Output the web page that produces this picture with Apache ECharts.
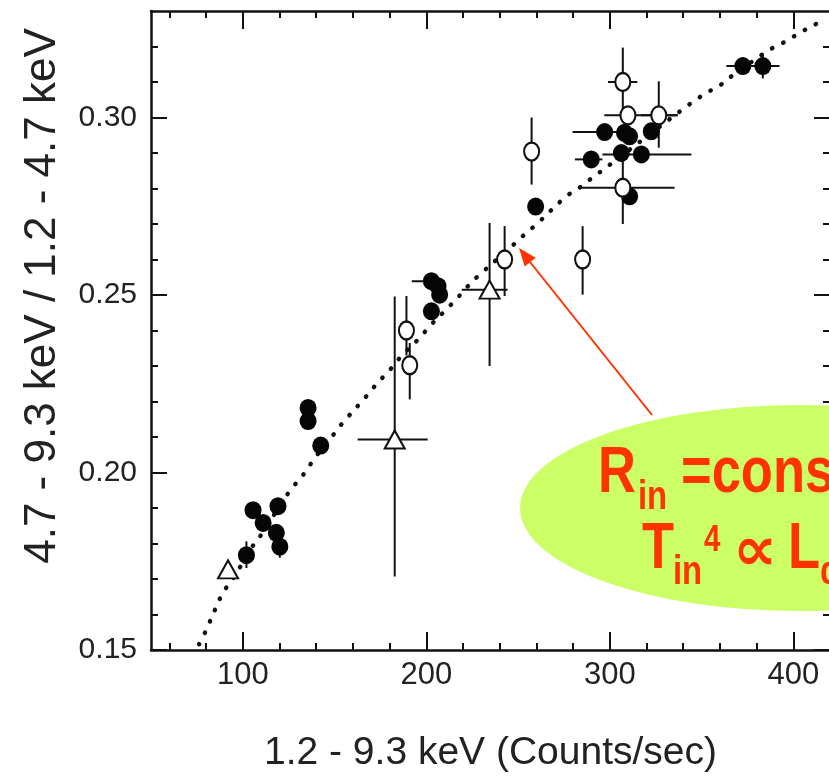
<!DOCTYPE html>
<html><head><meta charset="utf-8">
<script src="https://cdn.jsdelivr.net/npm/echarts@6/dist/echarts.min.js"></script>
<style>html,body{margin:0;padding:0;background:#fff;overflow:hidden}#c{width:829px;height:778px}</style>
</head><body><div id="c"></div>
<script>
// ---- axis ranges / ticks ----
const xMin = 50, xMax = 420, yMin = 0.15, yMax = 0.33;
const xMajorTicks = [100, 200, 300, 400];
const xMinorTicks = [60, 80, 120, 140, 160, 180, 220, 240, 260, 280, 320, 340, 360, 380];
const yMajorTicks = [0.15, 0.20, 0.25, 0.30];
const yMinorTicks = [0.16, 0.17, 0.18, 0.19, 0.21, 0.22, 0.23, 0.24, 0.26, 0.27, 0.28, 0.29, 0.31, 0.32];
const xTitle = '1.2 - 9.3 keV (Counts/sec)';
const yTitle = '4.7 - 9.3 keV / 1.2 - 4.7 keV';

// ---- filled circles ----
const filledX   = [135.6, 135.6, 142.5, 105.6, 119.2, 111.1, 118.3, 120.2, 102.0, 202.8, 206.4, 207.3, 202.8, 259.6, 297.2, 308.0, 310.8, 322.6, 306.3, 317.2, 289.9, 310.8, 372.5, 383.4];
const filledY   = [0.2182, 0.2145, 0.2076, 0.1894, 0.1905, 0.1858, 0.1830, 0.1791, 0.1767, 0.2539, 0.2525, 0.2501, 0.2454, 0.2749, 0.2959, 0.2957, 0.2947, 0.2961, 0.2900, 0.2896, 0.2882, 0.2778, 0.3145, 0.3145];
const filledXLo = [null, null, null, null, null, null, null, null, null, 192.1, null, null, null, null, 279.7, null, null, null, null, 296.0, 281.0, null, 363.5, 376.0];
const filledXHi = [null, null, null, null, null, null, null, null, null, 210.0, null, null, null, null, 306.0, null, null, null, null, 344.5, 296.0, null, 380.0, 392.5];
const filledYLo = [null, null, null, null, null, null, null, 0.1760, 0.1731, null, null, null, null, null, null, null, null, null, null, null, null, null, null, 0.3110];
const filledYHi = [null, null, null, null, null, null, null, 0.1820, 0.1806, null, null, null, null, null, null, null, null, null, null, null, null, null, null, 0.3180];

// ---- open circles ----
const openX   = [189.2, 191.0, 242.7, 257.4, 285.2, 307.1, 309.9, 326.7, 307.1];
const openY   = [0.2400, 0.2302, 0.2600, 0.2904, 0.2600, 0.3100, 0.3006, 0.3006, 0.2802];
const openXLo = [null, null, null, null, null, 299.0, 297.0, 317.0, 284.5];
const openXHi = [null, null, null, null, null, 315.0, 337.0, 337.0, 335.3];
const openYLo = [0.2330, 0.2206, 0.2497, 0.2811, 0.2501, 0.3006, null, 0.2915, 0.2700];
const openYHi = [0.2497, 0.2365, 0.2694, 0.3000, 0.2694, 0.3197, null, 0.3102, 0.2900];

// ---- open triangles ----
const triX   = [92.0, 182.8, 234.5];
const triY   = [0.1727, 0.2093, 0.2515];
const triXLo = [null, 162.6, 219.3];
const triXHi = [null, 200.8, 244.3];
const triYLo = [null, 0.1707, 0.2300];
const triYHi = [null, 0.2496, 0.2703];

// ---- dotted model curve (R_in = const) ----
const curveX = [76.2, 79.8, 89.3, 93.5, 105.6, 109.8, 126.1, 130.5, 135.0, 139.2, 148.3, 153.0, 167.4, 171.9, 176.8, 181.9, 186.4, 196.4, 201.5, 211.8, 216.7, 221.8, 227.3, 249.1, 254.5, 260.0, 276.3, 282.6, 288.1, 294.1, 299.5, 340.7, 346.7, 353.1, 359.4, 365.2, 383.8, 389.8, 396.1, 403.0, 410.0, 417.0];
const curveY = [0.1516, 0.1553, 0.1663, 0.1691, 0.1794, 0.1823, 0.1952, 0.1978, 0.2008, 0.2041, 0.2099, 0.2131, 0.2215, 0.2243, 0.2271, 0.2299, 0.2328, 0.2379, 0.2410, 0.2464, 0.2490, 0.2520, 0.2549, 0.2649, 0.2675, 0.2699, 0.2778, 0.2799, 0.2821, 0.2844, 0.2865, 0.3027, 0.3049, 0.3071, 0.3088, 0.3112, 0.3180, 0.3199, 0.3215, 0.3237, 0.3257, 0.3275];

// ---- build ----
const INK = '#111';
const LABEL = '#222';
const tickFont = '"Liberation Sans", Arial, Helvetica, sans-serif';
const pair = (xs, ys) => xs.map((x, i) => [x, ys[i]]);
const errRows = (xs, ys, xl, xh, yl, yh) => xs.map((x, i) => [x, ys[i], xl[i], xh[i], yl[i], yh[i]]);
const errData = [].concat(
  errRows(filledX, filledY, filledXLo, filledXHi, filledYLo, filledYHi),
  errRows(openX, openY, openXLo, openXHi, openYLo, openYHi),
  errRows(triX, triY, triXLo, triXHi, triYLo, triYHi)
);
const ok = v => v != null && !isNaN(v);

function xAx(position, ticks, len, main) {
  const a = {
    type: 'value', min: xMin, max: xMax, position: position, gridIndex: 0,
    axisLine: { show: !!main, onZero: false, lineStyle: { color: INK, width: 2.5 } },
    axisTick: { show: true, inside: true, length: len, customValues: ticks, lineStyle: { color: INK, width: 2 } },
    axisLabel: { show: false },
    splitLine: { show: false }
  };
  if (main === 'labels') {
    a.axisLabel = { show: true, customValues: xMajorTicks, color: LABEL, fontSize: 31, fontFamily: tickFont, margin: 10 };
    a.name = xTitle; a.nameLocation = 'middle'; a.nameGap = 84;
    a.nameTextStyle = { color: LABEL, fontSize: 39, fontFamily: tickFont };
  }
  return a;
}
function yAx(position, ticks, len, main) {
  const a = {
    type: 'value', min: yMin, max: yMax, position: position, gridIndex: 0,
    axisLine: { show: !!main, onZero: false, lineStyle: { color: INK, width: 2.5 } },
    axisTick: { show: true, inside: true, length: len, customValues: ticks, lineStyle: { color: INK, width: 2 } },
    axisLabel: { show: false },
    splitLine: { show: false }
  };
  if (main === 'labels') {
    a.axisLabel = { show: true, customValues: yMajorTicks, color: LABEL, fontSize: 30, fontFamily: tickFont, margin: 14,
      formatter: v => v.toFixed(2) };
    a.name = yTitle; a.nameLocation = 'middle'; a.nameGap = 86; a.nameRotate = 90;
    a.nameTextStyle = { color: LABEL, fontSize: 44, fontFamily: tickFont, padding: [0, 0, 0, 69] };
  }
  return a;
}

const chart = echarts.init(document.getElementById('c'), null, { renderer: 'canvas' });
const RED = '#ff3300';
const hFont = '"Liberation Sans", Arial, sans-serif';
function redText(x, yMid, text, size, extra) {
  return Object.assign({
    type: 'text', x: x, y: yMid, scaleX: 0.82, z: 102,
    style: { text: text, fill: RED, fontSize: size, fontWeight: 'bold', fontFamily: hFont, align: 'left', verticalAlign: 'middle' }
  }, extra || {});
}

chart.setOption({
  animation: false,
  backgroundColor: '#fff',
  grid: { left: 151, top: 11, width: 679, height: 639, containLabel: false, outerBoundsMode: 'none' },
  xAxis: [
    xAx('bottom', xMajorTicks, 18, 'labels'),
    xAx('bottom', xMinorTicks, 7, false),
    xAx('top', xMajorTicks, 18, true),
    xAx('top', xMinorTicks, 7, false)
  ],
  yAxis: [
    yAx('left', yMajorTicks, 16, 'labels'),
    yAx('left', yMinorTicks, 7, false),
    yAx('right', yMajorTicks, 16, true),
    yAx('right', yMinorTicks, 7, false)
  ],
  series: [
    {
      type: 'line', xAxisIndex: 0, yAxisIndex: 0, data: pair(curveX, curveY), smooth: 0.35,
      symbol: 'none', z: 2, silent: true,
      lineStyle: { color: INK, width: 4.4, type: [0.5, 12], cap: 'round' }
    },
    {
      type: 'custom', xAxisIndex: 0, yAxisIndex: 0, z: 3, silent: true,
      dimensions: ['x', 'y', 'xlo', 'xhi', 'ylo', 'yhi'],
      encode: { x: 0, y: 1 },
      data: errData,
      renderItem: function (params, api) {
        const x = api.value(0), y = api.value(1);
        const xl = api.value(2), xh = api.value(3), yl = api.value(4), yh = api.value(5);
        const st = { stroke: INK, lineWidth: 2 };
        const ch = [];
        if (ok(xl) && ok(xh)) {
          const a = api.coord([xl, y]), b = api.coord([xh, y]);
          ch.push({ type: 'line', shape: { x1: a[0], y1: a[1], x2: b[0], y2: b[1] }, style: st });
        }
        if (ok(yl) && ok(yh)) {
          const a = api.coord([x, yl]), b = api.coord([x, yh]);
          ch.push({ type: 'line', shape: { x1: a[0], y1: a[1], x2: b[0], y2: b[1] }, style: st });
        }
        return { type: 'group', children: ch };
      }
    },
    {
      type: 'scatter', xAxisIndex: 0, yAxisIndex: 0, z: 4, data: pair(filledX, filledY),
      symbol: 'circle', symbolSize: [17, 18], itemStyle: { color: '#050505', opacity: 1 }
    },
    {
      type: 'scatter', xAxisIndex: 0, yAxisIndex: 0, z: 5, data: pair(openX, openY),
      symbol: 'circle', symbolSize: [15, 18], itemStyle: { color: '#fff', borderColor: INK, borderWidth: 2.2, opacity: 1 }
    },
    {
      type: 'scatter', xAxisIndex: 0, yAxisIndex: 0, z: 5, data: pair(triX, triY),
      symbol: 'triangle', symbolSize: [20, 18], itemStyle: { color: '#fff', borderColor: INK, borderWidth: 2, opacity: 1 }
    }
  ],
  graphic: [
    { type: 'line', z: 100, shape: { x1: 652, y1: 415, x2: 530, y2: 262 }, style: { stroke: RED, lineWidth: 2 } },
    { type: 'polygon', z: 100, shape: { points: [[519, 248], [535.7, 257.7], [524.7, 266.5]] }, style: { fill: RED } },
    { type: 'circle', z: 101, x: 800, y: 508, scaleX: 280 / 103, shape: { cx: 0, cy: 0, r: 103 }, style: { fill: '#ccff66' } },
    redText(598, 474.8, 'R', 64),
    redText(638, 497.8, 'in', 40),
    redText(681, 474.8, '=const', 64),
    redText(642, 550.8, 'T', 64),
    redText(673, 573, 'in', 40),
    redText(704, 540.8, '4', 36),
    { type: 'text', x: 733, y: 554, z: 102, style: { text: '\u221D', fill: RED, fontSize: 62, fontWeight: 'bold', fontFamily: '"DejaVu Sans", sans-serif', align: 'left', verticalAlign: 'middle' } },
    redText(788, 550.8, 'L', 64),
    redText(820, 573, 'd', 40)
  ]
});
</script>
</body></html>
